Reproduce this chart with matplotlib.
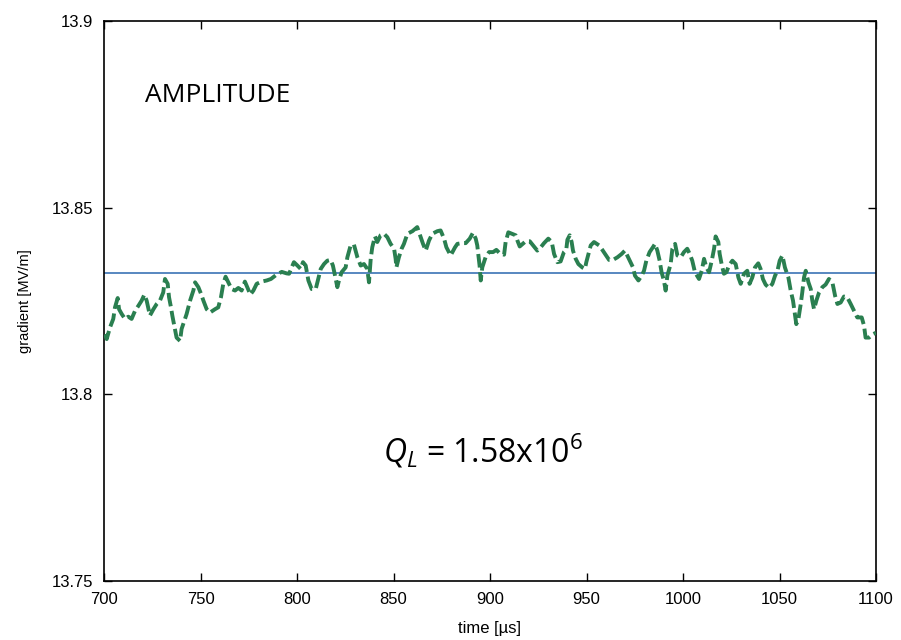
import numpy as np
import matplotlib
matplotlib.use('Agg')
import matplotlib.pyplot as plt

time_us = [700.5, 701.4, 703.1, 704.8, 705.7, 707.1, 707.8, 709.2, 710.9, 712.6,
           714.3, 716.1, 717.8, 719.5, 720.9, 722.1, 723.8, 725.6, 727.3, 729.0,
           730.7, 731.6, 733.0, 733.7, 734.7, 735.4, 736.4, 737.6, 739.4, 740.2,
           741.6, 742.8, 744.6, 746.3, 747.2, 748.9, 750.3, 751.5, 753.2, 754.9,
           757.5, 759.2, 760.6, 761.8, 763.0, 764.4, 766.1, 767.9, 769.6, 771.3,
           773.0, 774.4, 775.8, 777.4, 779.1, 781.7, 784.3, 786.5, 789.5, 792.1,
           794.6, 795.9, 798.4, 800.2, 801.9, 803.1, 804.5, 805.9, 807.6, 809.7,
           811.0, 812.3, 814.0, 815.7, 817.4, 818.6, 819.7, 820.9, 821.8, 823.1,
           825.2, 826.1, 827.8, 829.5, 831.3, 833.0, 834.7, 836.4, 837.3, 838.2,
           839.0, 840.4, 841.6, 843.3, 845.1, 846.8, 848.5, 850.3, 851.1, 851.5,
           852.8, 854.2, 855.4, 857.2, 859.8, 862.3, 864.1, 865.3, 866.7, 868.4,
           870.1, 872.7, 874.4, 876.2, 877.4, 879.6, 881.9, 883.1, 885.3, 887.4,
           889.5, 891.2, 892.6, 893.4, 893.9, 894.6, 895.2, 896.0, 897.7, 899.5,
           901.6, 903.3, 905.0, 907.3, 908.1, 909.5, 913.3, 914.2, 915.4, 918.5,
           920.6, 922.3, 924.5, 926.3, 928.0, 930.2, 932.0, 933.2, 934.9, 936.6,
           938.3, 939.5, 940.1, 941.3, 942.3, 943.0, 944.4, 945.8, 947.8, 949.2,
           949.9, 951.0, 952.2, 953.9, 956.5, 958.2, 959.9, 961.7, 963.7, 966.0,
           968.2, 969.9, 972.4, 974.1, 975.1, 976.9, 978.6, 979.8, 981.0, 982.7,
           984.4, 985.5, 986.7, 987.9, 988.9, 990.1, 991.0, 991.9, 993.6, 994.5,
           995.9, 997.1, 998.8, 1000.5, 1002.2, 1003.5, 1004.8, 1006.2, 1008.3, 1009.7,
           1010.9, 1012.1, 1013.5, 1014.9, 1016.1, 1016.9, 1018.3, 1019.0, 1020.0, 1021.2,
           1022.5, 1023.8, 1025.6, 1027.3, 1028.7, 1029.9, 1031.6, 1033.3, 1034.5, 1035.9,
           1037.3, 1039.0, 1040.2, 1041.4, 1042.8, 1044.6, 1046.3, 1047.7, 1048.9, 1050.1,
           1051.5, 1052.8, 1054.6, 1055.8, 1057.0, 1058.0, 1058.7, 1059.8, 1061.0, 1061.8,
           1062.7, 1063.6, 1065.0, 1066.2, 1067.0, 1067.9, 1069.1, 1070.5, 1072.2, 1073.9,
           1075.6, 1077.4, 1078.8, 1080.0, 1081.7, 1083.4, 1085.1, 1086.9, 1088.6, 1090.3,
           1092.6, 1093.8, 1094.6, 1096.4, 1098.4, 1100.0]
gradient = [13.8161, 13.8148, 13.8179, 13.8202, 13.8233, 13.8258, 13.8228, 13.8215, 13.8202, 13.8208,
            13.8202, 13.8224, 13.8237, 13.8251, 13.8267, 13.8251, 13.8211, 13.8228, 13.8242, 13.8251,
            13.8273, 13.8309, 13.8296, 13.8260, 13.8233, 13.8211, 13.8184, 13.8152, 13.8143, 13.8175,
            13.8197, 13.8215, 13.8251, 13.8278, 13.8300, 13.8287, 13.8269, 13.8251, 13.8228, 13.8219,
            13.8228, 13.8233, 13.8260, 13.8296, 13.8315, 13.8300, 13.8282, 13.8278, 13.8285, 13.8278,
            13.8302, 13.8285, 13.8267, 13.8278, 13.8296, 13.8302, 13.8305, 13.8309, 13.8321, 13.8328,
            13.8324, 13.8323, 13.8354, 13.8345, 13.8336, 13.8354, 13.8345, 13.8305, 13.8282, 13.8282,
            13.8309, 13.8336, 13.8349, 13.8358, 13.8360, 13.8345, 13.8318, 13.8287, 13.8306, 13.8327,
            13.8340, 13.8367, 13.8399, 13.8401, 13.8367, 13.8345, 13.8349, 13.8336, 13.8300, 13.8363,
            13.8394, 13.8423, 13.8408, 13.8426, 13.8430, 13.8421, 13.8403, 13.8390, 13.8363, 13.8340,
            13.8367, 13.8390, 13.8403, 13.8430, 13.8437, 13.8448, 13.8421, 13.8403, 13.8385, 13.8412,
            13.8430, 13.8437, 13.8439, 13.8417, 13.8394, 13.8372, 13.8394, 13.8403, 13.8405, 13.8405,
            13.8417, 13.8433, 13.8417, 13.8399, 13.8376, 13.8345, 13.8305, 13.8340, 13.8367, 13.8381,
            13.8381, 13.8387, 13.8378, 13.8374, 13.8408, 13.8434, 13.8426, 13.8412, 13.8396, 13.8410,
            13.8410, 13.8399, 13.8385, 13.8394, 13.8405, 13.8417, 13.8408, 13.8376, 13.8354, 13.8356,
            13.8381, 13.8387, 13.8414, 13.8426, 13.8408, 13.8385, 13.8363, 13.8349, 13.8340, 13.8336,
            13.8354, 13.8376, 13.8399, 13.8408, 13.8399, 13.8387, 13.8374, 13.8360, 13.8360, 13.8367,
            13.8376, 13.8385, 13.8358, 13.8340, 13.8318, 13.8305, 13.8318, 13.8331, 13.8358, 13.8381,
            13.8394, 13.8403, 13.8385, 13.8358, 13.8327, 13.8305, 13.8278, 13.8318, 13.8349, 13.8390,
            13.8403, 13.8372, 13.8367, 13.8381, 13.8390, 13.8376, 13.8358, 13.8327, 13.8309, 13.8331,
            13.8363, 13.8340, 13.8327, 13.8358, 13.8390, 13.8423, 13.8408, 13.8376, 13.8349, 13.8323,
            13.8327, 13.8345, 13.8358, 13.8349, 13.8313, 13.8296, 13.8323, 13.8331, 13.8296, 13.8313,
            13.8340, 13.8351, 13.8336, 13.8309, 13.8294, 13.8285, 13.8296, 13.8318, 13.8330, 13.8358,
            13.8372, 13.8340, 13.8313, 13.8278, 13.8251, 13.8215, 13.8188, 13.8202, 13.8242, 13.8273,
            13.8313, 13.8331, 13.8300, 13.8282, 13.8251, 13.8228, 13.8251, 13.8273, 13.8287, 13.8294,
            13.8309, 13.8300, 13.8264, 13.8242, 13.8246, 13.8262, 13.8260, 13.8242, 13.8224, 13.8206,
            13.8206, 13.8184, 13.8152, 13.8152, 13.8161, 13.8165]
mean_gradient = 13.8324

x_ticks = [700, 750, 800, 850, 900, 950, 1000, 1050, 1100]
y_ticks = [13.75, 13.8, 13.85, 13.9]
y_tick_labels = ['13.75', '13.8', '13.85', '13.9']

plt.rcParams['font.family'] = ['Liberation Sans', 'DejaVu Sans']
plt.rcParams['mathtext.fontset'] = 'custom'
plt.rcParams['mathtext.rm'] = 'Open Sans'
plt.rcParams['mathtext.it'] = 'Open Sans:italic'

fig = plt.figure(figsize=(9.01, 6.40), dpi=100)
ax = fig.add_axes([104 / 901, 1 - 581 / 640, 772 / 901, 560 / 640])

ax.axhline(mean_gradient, color='#4a7ebb', lw=1.3, zorder=2)
ax.plot(time_us, gradient, color='#2a7f50', lw=2.8, linestyle=(0, (3.5, 1.2)), zorder=3)

ax.set_xlim(700, 1100)
ax.set_ylim(13.75, 13.9)
ax.set_xticks(x_ticks)
ax.set_yticks(y_ticks)
ax.set_yticklabels(y_tick_labels)
ax.tick_params(direction='in', length=6, width=1, top=True, right=True,
               labelsize=12, colors='black')
ax.tick_params(axis='y', pad=8)
ax.tick_params(axis='x', pad=8)
for s in ax.spines.values():
    s.set_linewidth(1.2)

ax.set_xlabel('time [\u00b5s]', fontsize=12, labelpad=10)
ax.set_ylabel('gradient [MV/m]', fontsize=10.5, labelpad=14)

# annotations, placed in figure fractions
fig.text(145 / 901, 1 - 96 / 640, 'AMPLITUDE', fontsize=19, family='Open Sans',
         va='center', ha='left')
fig.text(383 / 901, 1 - 451 / 640, r'$Q_L$ = 1.58x10$^6$', fontsize=23,
         family='Open Sans', va='center', ha='left')

plt.savefig('out.png', dpi=100)
